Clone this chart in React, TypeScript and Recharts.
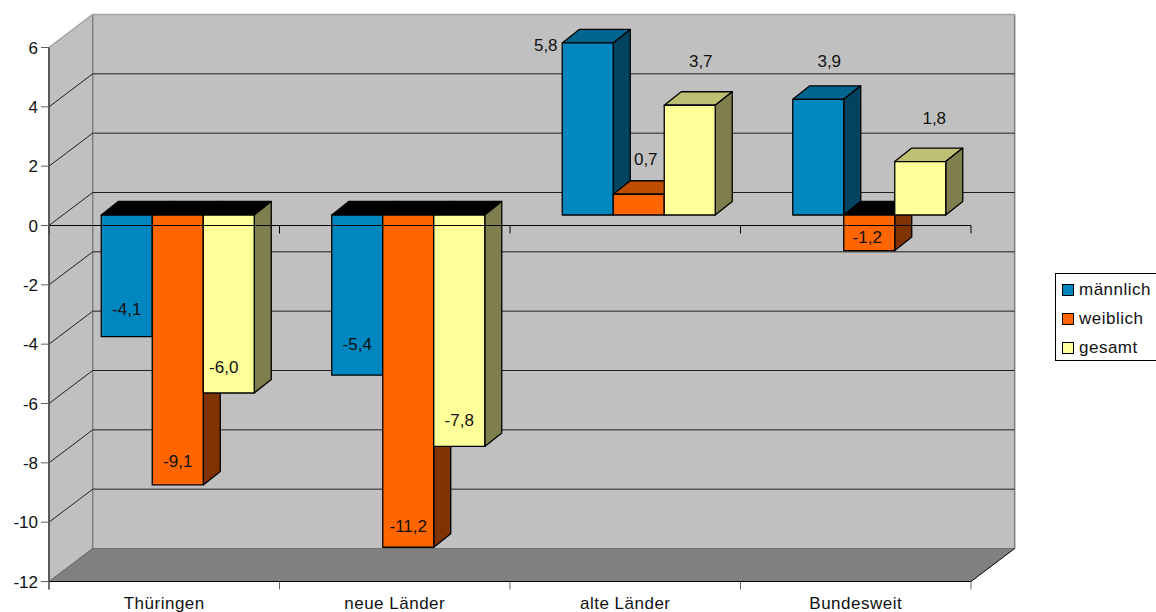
import React from 'react';
import { BarChart, Bar, XAxis, YAxis, CartesianGrid, Legend, LabelList, ReferenceArea, ReferenceLine } from 'recharts';

const regions = ['Thüringen', 'neue Länder', 'alte Länder', 'Bundesweit'];
const maennlich = [-4.1, -5.4, 5.8, 3.9];
const weiblich = [-9.1, -11.2, 0.7, -1.2];
const gesamt = [-6.0, -7.8, 3.7, 1.8];
const yTicks = [-12, -10, -8, -6, -4, -2, 0, 2, 4, 6];

const chartData = regions.map((name, i) => ({
  name,
  maennlich: maennlich[i],
  weiblich: weiblich[i],
  gesamt: gesamt[i],
}));

const FONT = '"Liberation Sans", Arial, sans-serif';
const FONT_SIZE = 17;

// depth of the back wall and of the columns, and where the columns sit in between
const WALL_DX = 43.7;
const WALL_DY = -33;
const BAR_DX = 17;
const BAR_DY = -13.5;
const BAR_SHIFT_X = 13.25;
const BAR_SHIFT_Y = -10.5;

const PLOT_WIDTH = 922;

const palette = {
  maennlich: { front: '#0087C0', top: '#006690', side: '#004460' },
  weiblich: { front: '#FF6600', top: '#BF4D00', side: '#7F3300' },
  gesamt: { front: '#FFFF99', top: '#BFBF73', side: '#7F7F4D' },
};

// label nudges relative to the end of each column
const labelNudge = {
  maennlich: [[0, -27], [0, -31], [-42, 3], [11, -38]],
  weiblich: [[0, -23], [0, -21], [7, -35], [-2, -13]],
  gesamt: [[-5, -26], [0, -26], [11, -44], [14, -43]],
};

const formatValue = (v: number) => v.toFixed(1).replace('.', ',');

const makeColumn = (key: keyof typeof palette) => (props: any) => {
  const { x, y, width, height, payload } = props;
  const c = palette[key];
  const left = x + BAR_SHIFT_X;
  const right = left + width;
  const isNegative = payload[key] < 0;
  // negative columns arrive with a negative height
  const top = Math.min(y, y + height) + BAR_SHIFT_Y;
  const bottom = top + Math.abs(height);
  const faces = { stroke: '#000', strokeWidth: 1.3, strokeLinejoin: 'round' as const };
  return (
    <g>
      <path
        d={`M${left},${top}L${left + BAR_DX},${top + BAR_DY}L${right + BAR_DX},${top + BAR_DY}L${right},${top}Z`}
        fill={isNegative ? '#000' : c.top}
        {...faces}
      />
      <path
        d={`M${right},${top}L${right + BAR_DX},${top + BAR_DY}L${right + BAR_DX},${bottom + BAR_DY}L${right},${bottom}Z`}
        fill={c.side}
        {...faces}
      />
      <rect x={left} y={top} width={width} height={bottom - top} fill={c.front} {...faces} />
    </g>
  );
};

const makeValueLabel = (key: keyof typeof palette) => (props: any) => {
  const { x, y, width, height, value, index } = props;
  const [dx, dy] = labelNudge[key][index];
  const endY = (value < 0 ? Math.max(y, y + height) : Math.min(y, y + height)) + BAR_SHIFT_Y;
  return (
    <text
      x={x + width / 2 + BAR_SHIFT_X + dx}
      y={endY + dy}
      textAnchor="middle"
      dominantBaseline="central"
      fontFamily={FONT}
      fontSize={FONT_SIZE}
      fill="#111"
    >
      {formatValue(value)}
    </text>
  );
};

// back wall, left wall and floor of the chart box, with its front edges
const ChartBox = (props: any) => {
  const { x, y, width, height } = props;
  const bottom = y + height;
  const right = x + width;
  return (
    <g>
      <path
        d={`M${x},${y}L${x + WALL_DX},${y + WALL_DY}H${right + WALL_DX}V${bottom + WALL_DY}H${x + WALL_DX}L${x},${bottom}Z`}
        fill="#C0C0C0"
      />
      <path
        d={`M${x},${bottom}L${x + WALL_DX},${bottom + WALL_DY}H${right + WALL_DX}L${right},${bottom}Z`}
        fill="#808080"
      />
      <path d={`M${x + WALL_DX},${y + WALL_DY}V${bottom + WALL_DY}`} stroke="#808080" strokeWidth={1.5} fill="none" />
      <path d={`M${right + WALL_DX},${y + WALL_DY}V${bottom + WALL_DY}`} stroke="#808080" strokeWidth={1.5} fill="none" />
      <path d={`M${x + WALL_DX},${bottom + WALL_DY}H${right + WALL_DX}`} stroke="#707070" strokeWidth={1} fill="none" />
      <path d={`M${right},${bottom}L${right + WALL_DX},${bottom + WALL_DY}`} stroke="#000" strokeWidth={1} fill="none" />
      <path d={`M${x},${y}V${bottom + 8}`} stroke="#505050" strokeWidth={1.5} fill="none" />
      <path d={`M${x},${bottom}H${right}`} stroke="#000" strokeWidth={1.2} fill="none" />
    </g>
  );
};

// each grid line runs up the left wall and then along the back wall
const GridLine = (props: any) => {
  const { x1, x2, y1 } = props;
  const isTop = y1 < 50;
  const isFloor = y1 > 570;
  if (isFloor) {
    return <path d={`M${x1},${y1}L${x1 + WALL_DX},${y1 + WALL_DY}`} stroke="#606060" fill="none" />;
  }
  return (
    <path
      d={`M${x1},${y1}L${x1 + WALL_DX},${y1 + WALL_DY}H${x2 + WALL_DX}`}
      stroke={isTop ? '#A0A0A0' : '#202020'}
      strokeWidth={isTop ? 1.5 : 1}
      fill="none"
    />
  );
};

// the zero line crosses in front of the columns and carries the category ticks
const ZeroAxis = (props: any) => {
  const { x1, x2, y1 } = props;
  const step = (x2 - x1) / regions.length;
  const marks = [0, 1, 2, 3, 4].map((i) => x1 + i * step);
  return (
    <g>
      <path d={`M${x1},${y1}H${x2}`} stroke="#000" fill="none" />
      {marks.map((m) => (
        <path key={m} d={`M${m},${y1}v8`} stroke="#000" fill="none" />
      ))}
    </g>
  );
};

const CategoryTick = (props: any) => {
  const { x, y, payload, index } = props;
  const step = PLOT_WIDTH / regions.length;
  const axisY = y - 8;
  return (
    <g>
      <path d={`M${x - step / 2},${axisY}v8`} stroke="#666" fill="none" />
      {index === regions.length - 1 && <path d={`M${x + step / 2},${axisY}v8`} stroke="#666" fill="none" />}
      <text x={x} y={axisY + 27} textAnchor="middle" fontFamily={FONT} fontSize={FONT_SIZE} letterSpacing={0.5} fill="#111">
        {payload.value}
      </text>
    </g>
  );
};

const LegendBox = ({ payload }: any) => (
  <div
    style={{
      boxSizing: 'border-box',
      width: 101,
      height: 88,
      border: '1px solid #000',
      borderRight: 'none',
      background: '#fff',
      padding: '1px 0 0 6px',
      fontFamily: FONT,
      fontSize: FONT_SIZE,
      letterSpacing: 0.5,
      color: '#111',
    }}
  >
    {(payload ?? []).map((entry: any) => (
      <div key={entry.value} style={{ display: 'flex', alignItems: 'center', height: 29, whiteSpace: 'nowrap' }}>
        <span
          style={{
            display: 'inline-block',
            boxSizing: 'border-box',
            width: 12,
            height: 12,
            border: '1.5px solid #000',
            background: entry.color,
            marginRight: 5,
            flex: 'none',
          }}
        />
        {entry.value}
      </div>
    ))}
  </div>
);

export default function App() {
  return (
    <div style={{ position: 'absolute', left: 0, top: 0, width: 1156, height: 612, overflow: 'hidden', background: '#fff' }}>
      <BarChart
        width={1156}
        height={612}
        data={chartData}
        margin={{ top: 47.5, right: 84, bottom: 0, left: 0 }}
        barSize={51}
        barGap={0}
      >
        <ReferenceArea
          y1={-12}
          y2={6}
          ifOverflow="visible"
          shape={ChartBox}
          zIndex={-200}
        />
        <CartesianGrid vertical={false} horizontal={GridLine} />
        <XAxis
          dataKey="name"
          height={30.5}
          interval={0}
          axisLine={{ stroke: '#000', strokeWidth: 1.2 }}
          tickLine={false}
          tick={CategoryTick}
        />
        <YAxis
          width={49}
          domain={[-12, 6]}
          ticks={yTicks}
          interval={0}
          axisLine={{ stroke: '#505050', strokeWidth: 1.5 }}
          tickLine={{ stroke: '#606060' }}
          tickSize={8}
          tickMargin={3}
          tick={{ fontFamily: FONT, fontSize: FONT_SIZE, fill: '#111' }}
        />
        <Bar dataKey="maennlich" name="männlich" fill={palette.maennlich.front} shape={makeColumn('maennlich')} isAnimationActive={false}>
          <LabelList dataKey="maennlich" content={makeValueLabel('maennlich')} />
        </Bar>
        <Bar dataKey="weiblich" name="weiblich" fill={palette.weiblich.front} shape={makeColumn('weiblich')} isAnimationActive={false}>
          <LabelList dataKey="weiblich" content={makeValueLabel('weiblich')} />
        </Bar>
        <Bar dataKey="gesamt" name="gesamt" fill={palette.gesamt.front} shape={makeColumn('gesamt')} isAnimationActive={false}>
          <LabelList dataKey="gesamt" content={makeValueLabel('gesamt')} />
        </Bar>
        <ReferenceLine y={0} ifOverflow="visible" shape={ZeroAxis} />
        <Legend
          layout="vertical"
          align="right"
          verticalAlign="top"
          itemSorter={null}
          content={LegendBox}
          wrapperStyle={{ position: 'absolute', left: 1055, top: 273, width: 101 }}
        />
      </BarChart>
    </div>
  );
}
